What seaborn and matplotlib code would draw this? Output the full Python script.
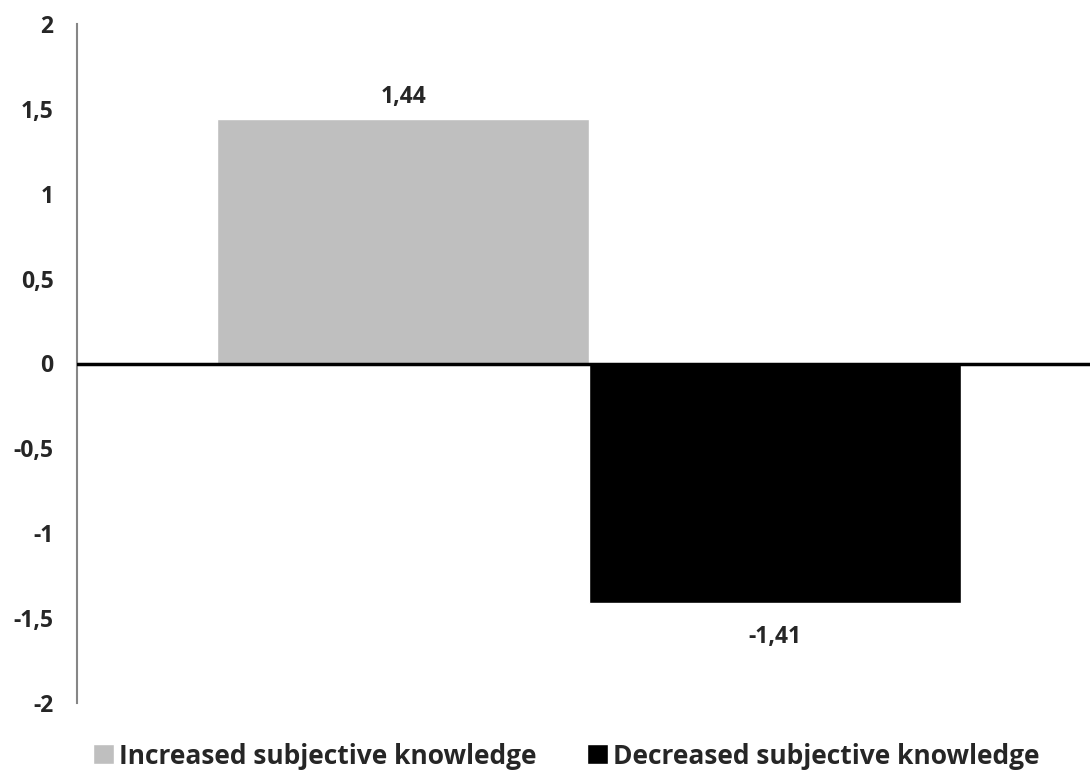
import matplotlib
matplotlib.use("Agg")
import matplotlib.pyplot as plt
import seaborn as sns
import pandas as pd
from matplotlib.ticker import FuncFormatter

series = ["Increased subjective knowledge", "Decreased subjective knowledge"]
values = [1.44, -1.41]
colors = ["#BFBFBF", "#000000"]
yticks = [-2, -1.5, -1, -0.5, 0, 0.5, 1, 1.5, 2]

df = pd.DataFrame({"group": ["", ""], "series": series, "value": values})

sns.set_style("white")
plt.rcParams["font.family"] = ["Open Sans", "DejaVu Sans"]
plt.rcParams["font.weight"] = "bold"

fig = plt.figure(figsize=(10.9, 7.74), dpi=100)
ax = fig.add_axes([77 / 1090, 1 - 703 / 774, 1 - 77 / 1090, (703 - 24) / 774])

sns.barplot(data=df, x="group", y="value", hue="series", palette=colors,
            saturation=1, width=0.734, ax=ax, legend=True)

ax.set_xlim(-0.5054, 0.4946)
ax.set_ylim(-2, 2)
ax.set_yticks(yticks)
ax.yaxis.set_major_formatter(FuncFormatter(lambda v, p: f"{v:g}".replace(".", ",")))
ax.tick_params(axis="y", length=0, pad=17, labelsize=16.5)
for t in ax.get_yticklabels():
    t.set_fontweight("bold")
ax.set_xticks([])
ax.set_xlabel("")
ax.set_ylabel("")

for s in ["top", "right", "bottom"]:
    ax.spines[s].set_visible(False)
ax.spines["left"].set_color("#868686")
ax.spines["left"].set_linewidth(1.5)
ax.axhline(0, color="black", lw=2.5, zorder=5)

# value labels
for bar, v in zip(ax.patches, values):
    x = bar.get_x() + bar.get_width() / 2
    if v >= 0:
        ax.annotate(f"{v:.2f}".replace(".", ","), (x, v), xytext=(0, 7),
                    textcoords="offset points", ha="center", va="bottom",
                    fontsize=16.5, fontweight="bold")
    else:
        ax.annotate(f"{v:.2f}".replace(".", ","), (x, v), xytext=(0, -16),
                    textcoords="offset points", ha="center", va="top",
                    fontsize=16.5, fontweight="bold")

handles, labels = ax.get_legend_handles_labels()
ax.get_legend().remove()
fig.legend(handles, labels, loc="center", bbox_to_anchor=(566 / 1090, 1 - 756 / 774),
           ncol=2, frameon=False, handlelength=0.8, handleheight=0.8,
           handletextpad=0.2, columnspacing=1.9, borderpad=0,
           prop={"weight": "bold", "size": 19})

fig.savefig("out.png", dpi=100)
